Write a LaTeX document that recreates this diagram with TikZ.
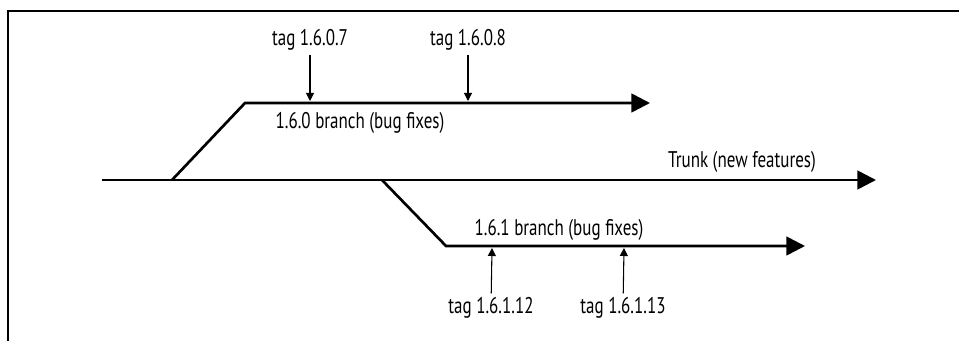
\documentclass[tikz,border=0pt]{standalone}
\usepackage{fontspec}
\setmainfont[FakeStretch=0.75]{PT Sans}
\usetikzlibrary{arrows.meta}
\tikzset{
  frameline/.style={line width=1.1pt, black},
  trackline/.style={line width=2pt, black, line join=miter},
  trackarrow/.style={trackline, -{Triangle[length=14pt,width=14pt]}},
  tagarrow/.style={line width=0.8pt, black, -{Triangle[length=6pt,width=6pt]}, shorten <=1pt},
  lbl/.style={inner sep=2pt, font=\fontsize{17pt}{19pt}\selectfont}
}
\begin{document}
\begin{tikzpicture}[x=0.75pt,y=-0.75pt]
\useasboundingbox (0,0) rectangle (959,341);
\draw[frameline] (8,341) -- (8,11) -- (959,11);
% track coordinates
\coordinate (t0) at (102,180);
\coordinate (t1) at (876,180);
\coordinate (b0s) at (172,180);
\coordinate (b0k) at (245,103);
\coordinate (b0e) at (650,103);
\coordinate (b1s) at (382,180);
\coordinate (b1k) at (446,246);
\coordinate (b1e) at (805,246);
\coordinate (p7) at (310,101);
\coordinate (p8) at (468,101);
\coordinate (p12) at (492,248);
\coordinate (p13) at (624,248);
% tracks
\draw[trackarrow] (t0) -- (t1);
\draw[trackarrow] (b0s) -- (b0k) -- (b0e);
\draw[trackarrow] (b1s) -- (b1k) -- (b1e);
% labels
\node[lbl] (trunk) at (742,162) {Trunk (new features)};
\node[lbl] (br0) at (360,123) {1.6.0 branch (bug fixes)};
\node[lbl] (br1) at (559,230) {1.6.1 branch (bug fixes)};
\node[lbl] (tag7) at (310,40) {tag 1.6.0.7};
\node[lbl] (tag8) at (468,40) {tag 1.6.0.8};
\node[lbl] (tag12) at (491,308) {tag 1.6.1.12};
\node[lbl] (tag13) at (623,308) {tag 1.6.1.13};
% tag arrows
\draw[tagarrow] (tag7) -- (p7);
\draw[tagarrow] (tag8) -- (p8);
\draw[tagarrow] (tag12) -- (p12);
\draw[tagarrow] (tag13) -- (p13);
\end{tikzpicture}
\end{document}
